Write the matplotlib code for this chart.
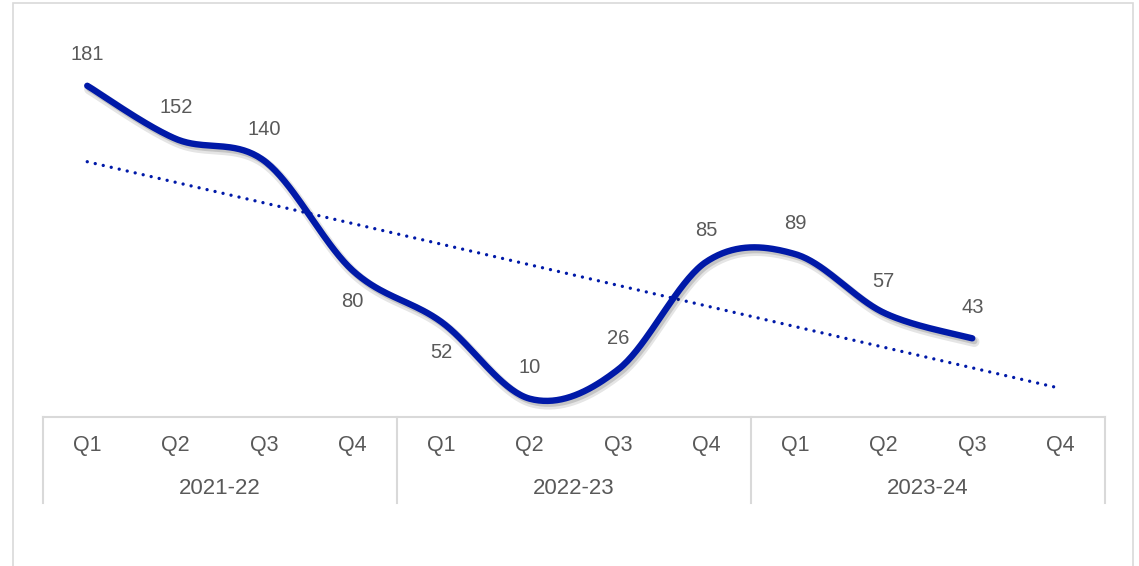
import numpy as np
import matplotlib
matplotlib.use("Agg")
import matplotlib.pyplot as plt
import matplotlib.patheffects as pe
from matplotlib.patches import Rectangle
from matplotlib.lines import Line2D

plt.rcParams['font.family'] = ['Liberation Sans', 'DejaVu Sans']

quarters = ["Q1", "Q2", "Q3", "Q4"] * 3
years = ["2021-22", "2022-23", "2023-24"]
values = [181, 152, 140, 80, 52, 10, 26, 85, 89, 57, 43]
label_side = ["above", "above", "above", "below", "below", "above",
              "above", "above", "above", "above", "above"]

BLUE = "#0019A8"
GRAY_TXT = "#595959"
GRID = "#D9D9D9"

W, H = 1139, 566
fig = plt.figure(figsize=(W / 100, H / 100), dpi=100)

# chart border
fig.patches.append(Rectangle((13 / W, -0.05), (1133 - 13) / W, (1 - 3 / H) + 0.05,
                             transform=fig.transFigure, fill=False,
                             edgecolor=GRID, linewidth=1.2))

L, R, T, B = 43, 1105, 51, 417
ax = fig.add_axes([L / W, 1 - B / H, (R - L) / W, (B - T) / H])
ax.set_xlim(0.5, len(quarters) + 0.5)
ax.set_ylim(0, 200)
ax.axis("off")

x = np.arange(1, len(values) + 1, dtype=float)
y = np.array(values, dtype=float)

# Excel-like smoothed line (cubic Bezier, Catmull-Rom control points)
px = np.concatenate([[x[0]], x, [x[-1]]])
py = np.concatenate([[y[0]], y, [y[-1]]])
sx, sy = [], []
t = np.linspace(0, 1, 40)
for i in range(1, len(px) - 2):
    p0 = np.array([px[i], py[i]])
    p3 = np.array([px[i + 1], py[i + 1]])
    c1 = p0 + (np.array([px[i + 1], py[i + 1]]) - np.array([px[i - 1], py[i - 1]])) / 6
    c2 = p3 - (np.array([px[i + 2], py[i + 2]]) - np.array([px[i], py[i]])) / 6
    bx = (1 - t) ** 3 * p0[0] + 3 * (1 - t) ** 2 * t * c1[0] + 3 * (1 - t) * t ** 2 * c2[0] + t ** 3 * p3[0]
    by = (1 - t) ** 3 * p0[1] + 3 * (1 - t) ** 2 * t * c1[1] + 3 * (1 - t) * t ** 2 * c2[1] + t ** 3 * p3[1]
    sx.extend(bx)
    sy.extend(by)

ax.plot(sx, sy, color=BLUE, linewidth=4.6, solid_capstyle="round", clip_on=False,
        path_effects=[pe.SimpleLineShadow(offset=(1.5, -2.5), shadow_color="black", alpha=0.10,
                                          linewidth=7.5, capstyle="round"),
                      pe.SimpleLineShadow(offset=(1.5, -2.0), shadow_color="black", alpha=0.14),
                      pe.Normal()], zorder=3)

# linear trendline, forecast forward one period
coef = np.polyfit(x, y, 1)
tx = np.array([1, len(quarters)], dtype=float)
ax.plot(tx, np.polyval(coef, tx), color=BLUE, linewidth=2.4,
        linestyle=(0, (0.01, 2.45)), dash_capstyle="round", clip_on=False, zorder=2)

# data labels
for xi, yi, side in zip(x, y, label_side):
    off = 31 if side == "above" else -31
    ax.annotate(f"{int(yi)}", (xi, yi), xytext=(0, off), textcoords="offset pixels",
                ha="center", va="center", fontsize=14.5, color=GRAY_TXT)

# category axis
axis_y = 1 - B / H
def fx(px_):
    return px_ / W
fig.add_artist(Line2D([fx(L), fx(R)], [axis_y, axis_y], color=GRID, linewidth=1.5,
                      transform=fig.transFigure))
step = (R - L) / len(quarters)
for k in range(len(years) + 1):
    xx = L + k * 4 * step
    fig.add_artist(Line2D([fx(xx), fx(xx)], [axis_y, 1 - 503 / H], color=GRID,
                          linewidth=1.5, transform=fig.transFigure))
for i, q in enumerate(quarters):
    fig.text(fx(L + (i + 0.5) * step), 1 - 445 / H, q, ha="center", va="center",
             fontsize=15.5, color=GRAY_TXT)
for j, yr in enumerate(years):
    fig.text(fx(L + (j * 4 + 2) * step), 1 - 489 / H, yr, ha="center", va="center",
             fontsize=16, color=GRAY_TXT)

fig.savefig("out.png", dpi=100, facecolor="white")
